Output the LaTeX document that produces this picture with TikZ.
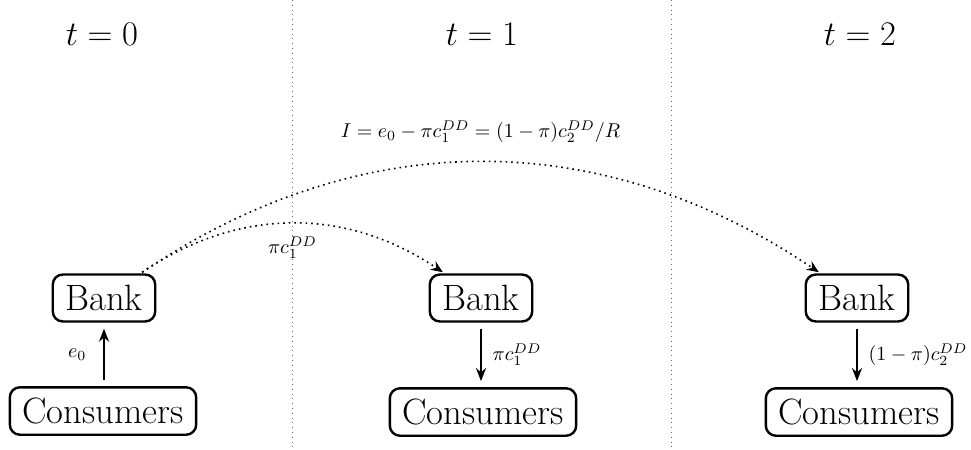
\documentclass[tikz,border=0pt]{standalone}
\usetikzlibrary{arrows.meta}
\newcommand\boxtxt[1]{\scalebox{1.06}{#1}}
\begin{document}
\begin{tikzpicture}[x=0.5pt,y=-0.5pt,
  box/.style={draw,rounded corners=5pt,line width=1.2pt,inner xsep=6.3pt,inner ysep=5.3pt,font=\LARGE},
  tlabel/.style={font=\LARGE},
  flow/.style={-{Stealth[length=6.5pt,width=5pt]},line width=1pt,shorten >=3pt,shorten <=3pt},
  transfer/.style={-{Stealth[length=6pt,width=5pt]},thick,dotted,shorten >=1pt,shorten <=1pt},
  sep/.style={dotted,gray!80!black}]
\useasboundingbox (0,0) rectangle (971,450);
\coordinate (s1t) at (292,0); \coordinate (s1b) at (292,450);
\coordinate (s2t) at (671,0); \coordinate (s2b) at (671,450);
\draw[sep] (s1t) -- (s1b);
\draw[sep] (s2t) -- (s2b);
\node[tlabel] (t0) at (102,34) {$t=0$};
\node[tlabel] (t1) at (482,34) {$t=1$};
\node[tlabel] (t2) at (860,34) {$t=2$};
\node[box] (b0) at (104,298) {\boxtxt{Bank}};
\node[box] (c0) at (103,411) {\boxtxt{Consumers}};
\node[box] (b1) at (481,298) {\boxtxt{Bank}};
\node[box] (c1) at (483,412) {\boxtxt{Consumers}};
\node[box] (b2) at (857,298) {\boxtxt{Bank}};
\node[box] (c2) at (859,412) {\boxtxt{Consumers}};
\draw[flow] (c0.north -| b0.south) -- node[left=5pt] {$e_0$} (b0.south);
\draw[flow] (b1.south) -- node[right=2pt] {$\pi c_1^{DD}$} (b1.south |- c1.north);
\draw[flow] (b2.south) -- node[right=2pt] {$(1-\pi)c_2^{DD}$} (b2.south |- c2.north);
\draw[transfer] (b0) to[bend left=34] node[below=3pt] {$\pi c_1^{DD}$} (b1);
\draw[transfer] (b0) to[bend left=34] node[above=6pt] {$I=e_0-\pi c_1^{DD}=(1-\pi)c_2^{DD}/R$} (b2);
\end{tikzpicture}
\end{document}
